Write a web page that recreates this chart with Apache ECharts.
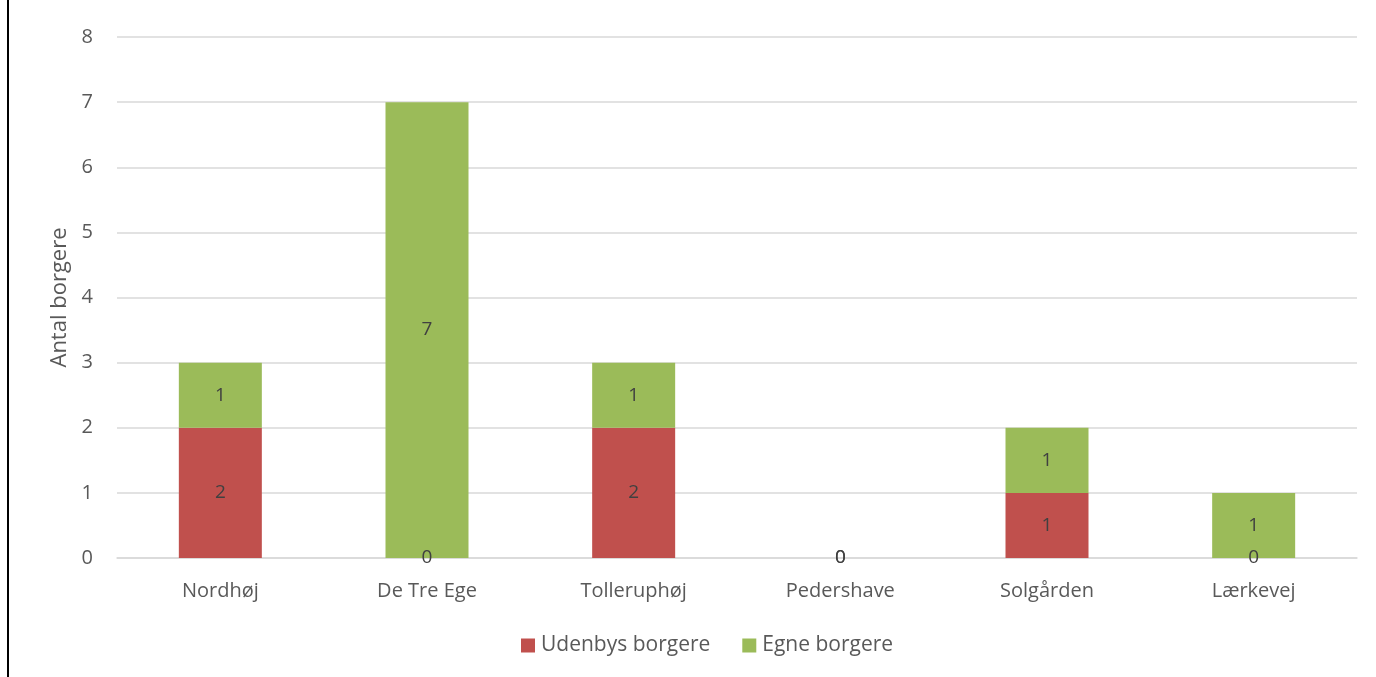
<!DOCTYPE html>
<html>
<head>
<meta charset="utf-8">
<script src="https://cdn.jsdelivr.net/npm/echarts@6/dist/echarts.min.js"></script>
<style>
html,body{margin:0;padding:0;background:#fff;}
#c{width:1376px;height:677px;}
</style>
</head>
<body>
<div id="c"></div>
<script>
var categories = ['Nordhøj', 'De Tre Ege', 'Tolleruphøj', 'Pedershave', 'Solgården', 'Lærkevej'];
var udenbys = [2, 0, 2, 0, 1, 0];
var egne = [1, 7, 1, 0, 1, 1];
var yTicks = [0, 1, 2, 3, 4, 5, 6, 7, 8];
var seriesNames = ['Udenbys borgere', 'Egne borgere'];
var axisName = 'Antal borgere';

var font = "'Open Sans', 'Noto Sans', sans-serif";
var chart = echarts.init(document.getElementById('c'), null, {renderer: 'canvas'});
var labelStyle = {show: true, position: 'inside', color: '#404040', fontSize: 19, fontFamily: font};
chart.setOption({
  animation: false,
  backgroundColor: '#fff',
  textStyle: {fontFamily: font},
  grid: {left: 117, right: 19, top: 37, bottom: 119, containLabel: false},
  legend: {
    bottom: 16, left: 516, itemWidth: 14, itemHeight: 14, itemGap: 32, icon: 'rect',
    textStyle: {color: '#595959', fontSize: 21, fontFamily: font, padding: [0, 0, 0, 1]},
    data: seriesNames
  },
  xAxis: {
    type: 'category', data: categories,
    axisLine: {show: true, lineStyle: {color: '#d9d9d9', width: 1.5}},
    axisTick: {show: false},
    axisLabel: {color: '#595959', fontSize: 20, margin: 23, fontFamily: font}
  },
  yAxis: {
    type: 'value', min: yTicks[0], max: yTicks[yTicks.length - 1], interval: 1,
    name: axisName, nameLocation: 'middle', nameGap: 46, nameRotate: 90,
    nameTextStyle: {color: '#595959', fontSize: 22, fontFamily: font},
    axisLine: {show: false}, axisTick: {show: false},
    axisLabel: {color: '#595959', fontSize: 20, margin: 24, fontFamily: font},
    splitLine: {lineStyle: {color: '#d9d9d9', width: 1.5}}
  },
  graphic: [{type: 'rect', shape: {x: 7, y: 0, width: 2, height: 677}, style: {fill: '#000'}}],
  series: [
    {name: seriesNames[0], type: 'bar', stack: 's', data: udenbys, barWidth: 83,
     itemStyle: {color: '#C0504D'}, label: labelStyle},
    {name: seriesNames[1], type: 'bar', stack: 's', data: egne, barWidth: 83,
     itemStyle: {color: '#9BBB59'}, label: labelStyle}
  ]
});
</script>
</body>
</html>
